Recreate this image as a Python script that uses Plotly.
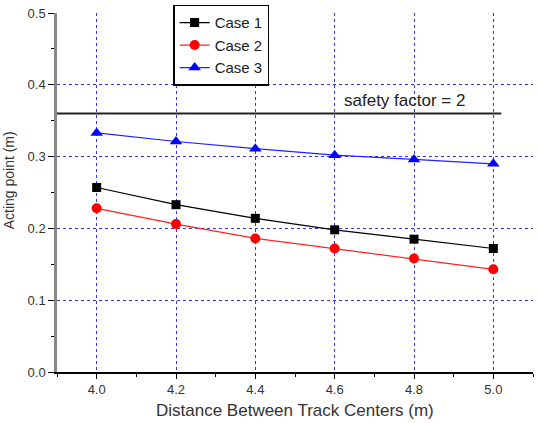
import plotly.graph_objects as go

distance = [4.0, 4.2, 4.4, 4.6, 4.8, 5.0]
case1 = [0.257, 0.233, 0.214, 0.198, 0.185, 0.172]
case2 = [0.228, 0.206, 0.186, 0.172, 0.158, 0.143]
case3 = [0.333, 0.321, 0.311, 0.302, 0.296, 0.290]
safety_y = 0.36
safety_label = "safety factor = 2"
yvals = [0.0, 0.1, 0.2, 0.3, 0.4, 0.5]
ygrid_vals = [0.1, 0.2, 0.3, 0.4]

fig = go.Figure()
fig.add_trace(go.Scatter(x=distance, y=case1, name="Case 1", mode="lines+markers",
                         line=dict(color="black", width=1.2),
                         marker=dict(symbol="square", size=9, color="black")))
fig.add_trace(go.Scatter(x=distance, y=case2, name="Case 2", mode="lines+markers",
                         line=dict(color="#ff2020", width=1.2),
                         marker=dict(symbol="circle", size=10, color="#ff0000")))
fig.add_trace(go.Scatter(x=distance, y=case3, name="Case 3", mode="lines+markers",
                         line=dict(color="#2020ff", width=1.2),
                         marker=dict(symbol="triangle-up", size=11, color="#0000ff")))
# empty trace so the grid-only overlay axis is drawn
fig.add_trace(go.Scatter(x=[], y=[], yaxis="y2", showlegend=False, hoverinfo="skip"))

fig.add_shape(type="line", xref="x", yref="y", x0=3.9, x1=5.02, y0=safety_y, y1=safety_y,
              line=dict(color="#222", width=1.8))
fig.add_annotation(x=4.777, y=0.378, xref="x", yref="y", text=safety_label, showarrow=False,
                   font=dict(family="Arial", size=17, color="#222"))

fig.add_annotation(x=0.5, y=-0.108, xref="paper", yref="paper", text="Distance Between Track Centers (m)",
                   showarrow=False, font=dict(family="Arial", size=17, color="#333"), yanchor="middle")
fig.add_annotation(x=-0.100, y=0.535, xref="paper", yref="paper", text="Acting point (m)", textangle=-90,
                   showarrow=False, font=dict(family="Arial", size=14, color="#333"), xanchor="center")

fig.update_xaxes(range=[3.9, 5.1], tickmode="array", tickvals=distance, ticktext=[f"{v:.1f}" for v in distance],
                 ticks="outside", ticklen=5, tickcolor="black", showline=True, linecolor="black", linewidth=1.5,
                 minor=dict(ticks="outside", ticklen=3, tickcolor="black", tickvals=[3.9, 4.1, 4.3, 4.5, 4.7, 4.9, 5.1], showgrid=False),
                 tickfont=dict(family="Arial", size=13, color="#333"), zeroline=False,
                 showgrid=True, gridcolor="#3030ff", griddash="dot", gridwidth=1)
fig.update_layout(
    yaxis=dict(range=[0, 0.5], tickmode="array", tickvals=yvals, ticktext=[f"{v:.1f}" for v in yvals],
               ticks="outside", ticklen=6, tickcolor="black", showline=True, linecolor="#888", linewidth=2.5,
               minor=dict(ticks="outside", ticklen=3, tickcolor="black", tickvals=[0.05, 0.15, 0.25, 0.35, 0.45], showgrid=False),
               tickfont=dict(family="Arial", size=13, color="#333"), zeroline=False, showgrid=False),
    yaxis2=dict(range=[0, 0.5], overlaying="y", side="left", tickmode="array", tickvals=ygrid_vals,
                showticklabels=False, ticks="", showline=False, zeroline=False,
                showgrid=True, gridcolor="#3030ff", griddash="dot", gridwidth=1),
)

fig.update_layout(width=539, height=423, margin=dict(l=57, r=6, t=12, b=51),
                  plot_bgcolor="white", paper_bgcolor="white",
                  legend=dict(x=0.244, y=1.02, xanchor="left", yanchor="top", bgcolor="white",
                              bordercolor="black", borderwidth=1.5, font=dict(family="Arial", size=15, color="#222"),
                              tracegroupgap=0, itemwidth=30),
                  showlegend=True)
fig.write_html("out.html")
